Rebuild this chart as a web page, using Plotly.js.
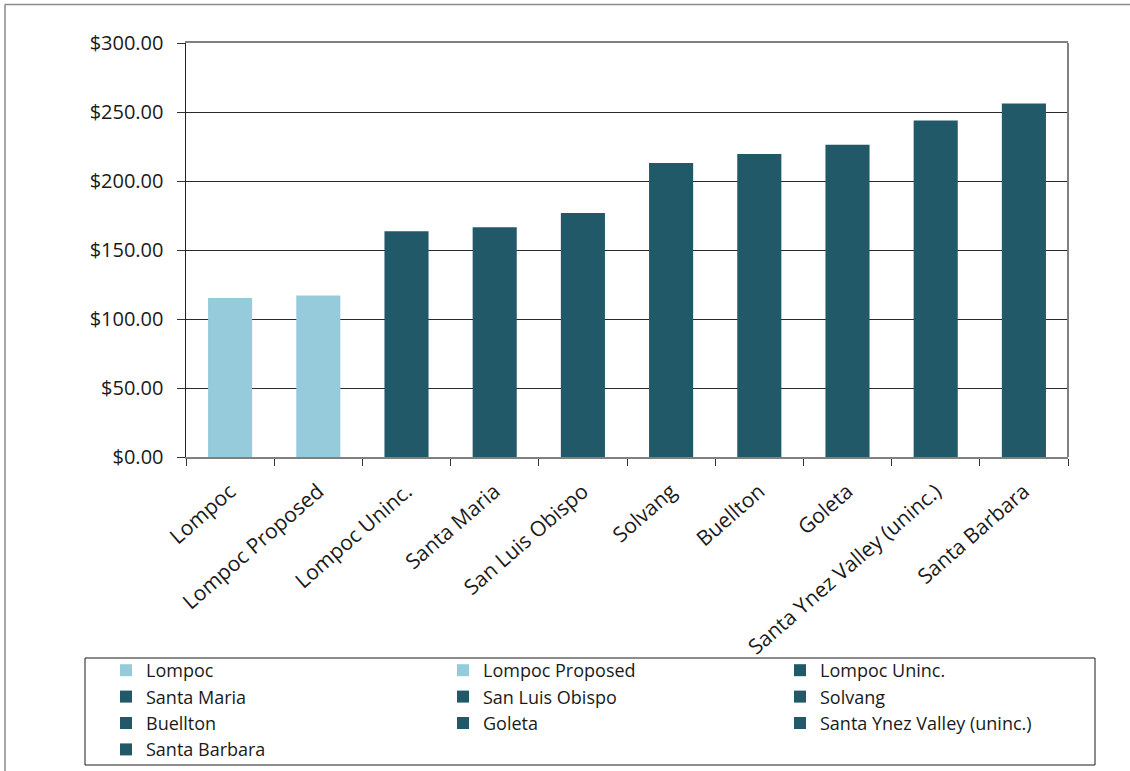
<!DOCTYPE html>
<html>
<head>
<meta charset="utf-8">
<script src="https://cdn.plot.ly/plotly-3.0.1.min.js"></script>
<style>
  html, body { margin: 0; padding: 0; background: #ffffff; }
  #chart { width: 1130px; height: 771px; }
</style>
</head>
<body>
<div id="chart"></div>
<script>
// ---- data ----
const categories = [
  "Lompoc", "Lompoc Proposed", "Lompoc Uninc.", "Santa Maria", "San Luis Obispo",
  "Solvang", "Buellton", "Goleta", "Santa Ynez Valley (uninc.)", "Santa Barbara"
];
const values = [115.2, 117.1, 163.5, 166.4, 176.8, 213.0, 219.6, 226.3, 243.9, 256.2];
const barColors = [
  "#96CBDC", "#96CBDC", "#215968", "#215968", "#215968",
  "#215968", "#215968", "#215968", "#215968", "#215968"
];
const yTickValues = [0, 50, 100, 150, 200, 250, 300];
const yTickLabels = ["$0.00", "$50.00", "$100.00", "$150.00", "$200.00", "$250.00", "$300.00"];

// ---- layout geometry (pixels) ----
const W = 1130, H = 771;
const L = 186, R = 62, T = 43, B = 314;
const pw = W - L - R, ph = H - T - B;
const px = v => (v - L) / pw;
const py = v => (H - B - v) / ph;

const traces = categories.map((c, i) => ({
  type: "bar",
  name: c,
  x: [c],
  y: [values[i]],
  width: 0.5,
  marker: { color: barColors[i], line: { width: 0 } },
  hoverinfo: "skip"
}));

const font = "'Open Sans', 'Noto Sans', sans-serif";

const layout = {
  width: W,
  height: H,
  margin: { l: L, r: R, t: T, b: B, pad: 0, autoexpand: false },
  paper_bgcolor: "#ffffff",
  plot_bgcolor: "#ffffff",
  barmode: "overlay",
  showlegend: true,
  hovermode: false,
  font: { family: font, size: 18, color: "#1a1a1a" },
  xaxis: {
    type: "category",
    categoryorder: "array",
    categoryarray: categories,
    tickson: "boundaries",
    ticks: "outside",
    ticklen: 7,
    tickwidth: 1,
    tickcolor: "#333333",
    tickangle: -41,
    ticklabelstandoff: 12,
    tickfont: { family: font, size: 21, color: "#1a1a1a" },
    showline: true,
    linecolor: "#808080",
    linewidth: 2,
    mirror: true,
    showgrid: false,
    zeroline: false,
    automargin: false,
    fixedrange: true
  },
  yaxis: {
    range: [0, 300],
    tickmode: "array",
    tickvals: yTickValues,
    ticktext: yTickLabels,
    ticks: "outside",
    ticklen: 8,
    tickwidth: 1,
    tickcolor: "#333333",
    ticklabelstandoff: 9,
    tickfont: { family: font, size: 20, color: "#1a1a1a" },
    showline: true,
    linecolor: "#222222",
    linewidth: 1.5,
    showgrid: true,
    gridcolor: "#2a2a2a",
    gridwidth: 1,
    zeroline: false,
    automargin: false,
    fixedrange: true
  },
  legend: {
    orientation: "h",
    x: px(106),
    y: py(652),
    xanchor: "left",
    yanchor: "top",
    bgcolor: "rgba(0,0,0,0)",
    borderwidth: 0,
    entrywidth: 292,
    entrywidthmode: "pixels",
    traceorder: "normal",
    font: { family: font, size: 18, color: "#1a1a1a" }
  },
  shapes: [
    // right border of plot area
    { type: "line", xref: "paper", yref: "paper", x0: 1, x1: 1, y0: 0, y1: 1,
      line: { color: "#808080", width: 2 } },
    // outer chart frame (top and left)
    { type: "line", xref: "paper", yref: "paper", x0: px(5), x1: px(1130), y0: py(4.5), y1: py(4.5),
      line: { color: "#8a8a8a", width: 1.5 } },
    { type: "line", xref: "paper", yref: "paper", x0: px(5), x1: px(5), y0: py(4.5), y1: py(771),
      line: { color: "#8a8a8a", width: 1.5 } },
    // legend frame
    { type: "rect", xref: "paper", yref: "paper", x0: px(85), x1: px(1095), y0: py(658), y1: py(765),
      line: { color: "#1a1a1a", width: 1 }, fillcolor: "rgba(0,0,0,0)" }
  ]
};

Plotly.newPlot("chart", traces, layout, { displayModeBar: false, staticPlot: true });
</script>
</body>
</html>
